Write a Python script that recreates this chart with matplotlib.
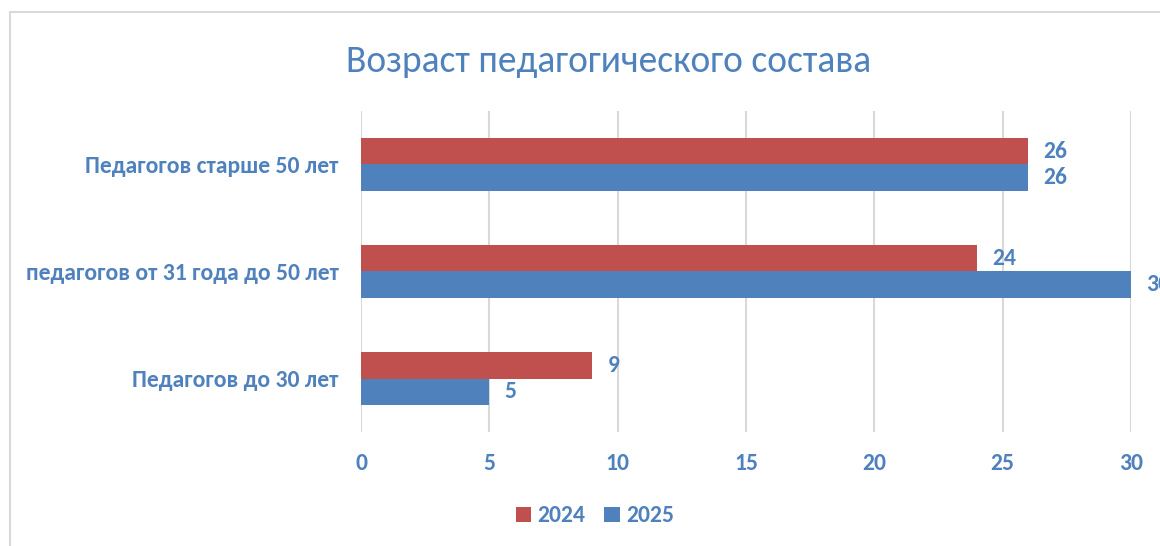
import matplotlib.pyplot as plt
import numpy as np
from matplotlib.patches import Rectangle

categories = ["Педагогов до 30 лет", "педагогов от 31 года до 50 лет", "Педагогов старше 50 лет"]
values_2024 = [9, 24, 26]
values_2025 = [5, 30, 26]
series_names = ["2024", "2025"]

RED = "#C0504D"
BLUE = "#4F81BD"
TEXT = "#4F81BD"
FONT = ["Carlito", "DejaVu Sans"]
FS = 17

plt.rcParams["font.family"] = FONT

fig = plt.figure(figsize=(11.6, 5.46), dpi=100)
ax = fig.add_axes([361 / 1160, 1 - 432 / 546, 770 / 1160, 321 / 546])

# outer chart frame (cut off at right and bottom)
fig.patches.append(Rectangle((10 / 1160, -0.1), 1.2, 1.1 - 12 / 546, transform=fig.transFigure,
                             fill=False, edgecolor="#D9D9D9", linewidth=1.5))

y = np.arange(len(categories))
h = 0.25
bars_24 = ax.barh(y + h / 2, values_2024, height=h, color=RED, label=series_names[0])
bars_25 = ax.barh(y - h / 2, values_2025, height=h, color=BLUE, label=series_names[1])

for bars in (bars_24, bars_25):
    for b in bars:
        ax.text(b.get_width() + 0.6, b.get_y() + b.get_height() / 2, f"{b.get_width():g}",
                va="center", ha="left", color=TEXT, fontsize=FS, fontweight="bold", clip_on=False)

ax.set_xlim(0, 30)
ax.set_ylim(-0.5, 2.5)
ax.set_xticks(range(0, 31, 5))
ax.set_yticks(y)
ax.set_yticklabels(categories)
ax.tick_params(axis="both", length=0, labelcolor=TEXT, labelsize=FS)
ax.tick_params(axis="x", pad=15)
ax.tick_params(axis="y", pad=16)
for lab in ax.get_xticklabels() + ax.get_yticklabels():
    lab.set_fontweight("bold")

ax.grid(axis="x", color="#D9D9D9", linewidth=1.5)
ax.set_axisbelow(True)
for s in ax.spines.values():
    s.set_visible(False)

fig.text(609 / 1160, 1 - 61 / 546, "Возраст педагогического состава", ha="center", va="center",
         color=TEXT, fontsize=27)

fig.legend(handles=[bars_24, bars_25], labels=series_names, loc="center",
           bbox_to_anchor=(595 / 1160, 1 - 516 / 546), ncol=2, frameon=False,
           handlelength=0.65, handleheight=0.6, handletextpad=0.26, columnspacing=0.8,
           prop={"family": FONT, "weight": "bold", "size": FS}, labelcolor=TEXT)

fig.savefig("out.png", dpi=100)
